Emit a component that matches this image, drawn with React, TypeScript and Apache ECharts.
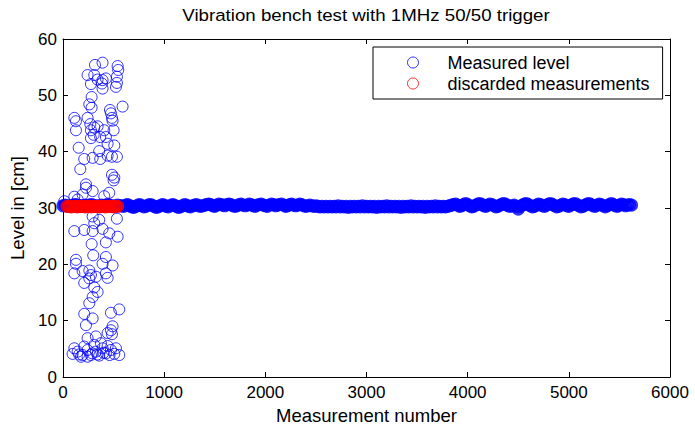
import React, { useEffect, useRef } from "react";
import * as echarts from "echarts";

const FONT = '"Liberation Sans", Arial, Helvetica, sans-serif';

const titleText = "Vibration bench test with 1MHz 50/50 trigger";
const xAxisName = "Measurement number";
const yAxisName = "Level in [cm]";
const seriesNames = ["Measured level", "discarded measurements"];

const xTicks = { min: 0, max: 6000, interval: 1000 };
const yTicks = { min: 0, max: 60, interval: 10 };

// steady level: one value every `levelStep` measurements, starting at `levelStart`
const levelStart = 0;
const levelStep = 20;
const measuredLevels = [
  30.4, 30.5, 30.4, 30.3, 30.4, 30.5, 30.6, 30.5, 30.4, 30.3,
  30.4, 30.5, 30.4, 30.5, 30.6, 30.5, 30.4, 30.3, 30.4, 30.5,
  30.4, 30.5, 30.6, 30.5, 30.4, 30.3, 30.4, 30.5, 30.4, 30.4,
  30.3, 30.5, 30.6, 30.4, 30.2, 30.1, 30.3, 30.5, 30.6, 30.4,
  30.2, 30.3, 30.5, 30.6, 30.5, 30.3, 30.1, 30.2, 30.4, 30.6,
  30.5, 30.3, 30.2, 30.4, 30.6, 30.5, 30.3, 30.1, 30.2, 30.4,
  30.6, 30.5, 30.3, 30.2, 30.4, 30.5, 30.6, 30.4, 30.3, 30.4,
  30.5, 30.6, 30.7, 30.6, 30.4, 30.3, 30.5, 30.7, 30.6, 30.5,
  30.4, 30.6, 30.7, 30.6, 30.4, 30.3, 30.4, 30.6, 30.7, 30.5,
  30.4, 30.5, 30.7, 30.6, 30.4, 30.3, 30.5, 30.6, 30.7, 30.5,
  30.4, 30.3, 30.5, 30.7, 30.6, 30.4, 30.5, 30.6, 30.7, 30.5,
  30.3, 30.4, 30.6, 30.7, 30.5, 30.4, 30.5, 30.7, 30.6, 30.4,
  30.3, 30.4, 30.5, 30.4, 30.3, 30.4, 30.3, 30.2, 30.3, 30.2,
  30.3, 30.2, 30.3, 30.2, 30.3, 30.2, 30.4, 30.2, 30.3, 30.2,
  30.3, 30.1, 30.3, 30.2, 30.3, 30.2, 30.3, 30.2, 30.4, 30.2,
  30.3, 30.2, 30.3, 30.2, 30.3, 30.1, 30.3, 30.2, 30.3, 30.2,
  30.4, 30.2, 30.3, 30.2, 30.3, 30.2, 30.3, 30.1, 30.3, 30.2,
  30.3, 30.2, 30.4, 30.2, 30.3, 30.2, 30.3, 30.2, 30.3, 30.1,
  30.3, 30.2, 30.3, 30.2, 30.4, 30.2, 30.3, 30.2, 30.3, 30.2,
  30.3, 30.4, 30.5,
  30.6, 30.7, 30.5, 30.3, 30.4, 30.6, 30.8, 30.6, 30.4, 30.2,
  30.3, 30.5, 30.7, 30.8, 30.6, 30.4, 30.3, 30.5, 30.7, 30.6,
  30.4, 30.2, 30.3, 30.5, 30.7, 30.8, 30.6, 30.4, 30.3, 30.4,
  30.5, 30.3, 29.8, 30.3, 30.5, 30.7, 30.8, 30.6, 30.4, 30.2,
  30.3, 30.5, 30.7, 30.6, 30.4, 30.3, 30.5, 30.7, 30.8, 30.6,
  30.4, 30.2, 30.3, 30.5, 30.7, 30.6, 30.4, 30.3, 30.5, 30.7,
  30.8, 30.6, 30.4, 30.2, 30.3, 30.5, 30.7, 30.8, 30.6, 30.4,
  30.3, 30.5, 30.7, 30.6, 30.4, 30.2, 30.4, 30.6, 30.8, 30.6,
  30.4, 30.3, 30.5, 30.7, 30.6, 30.4, 30.5, 30.6, 30.5,
];

// scattered readings during the first ~600 measurements [measurement, level]
const measuredBurst: [number, number][] = [
  [391, 55.8], [316, 55.4], [540, 55.2], [546, 54.5], [243, 53.6], [309, 53.6],
  [533, 53.3], [342, 52.8], [391, 52.7], [424, 53.0], [276, 52.0], [385, 52.1],
  [533, 52.2], [523, 51.5], [391, 51.2], [283, 49.7], [589, 48.0], [260, 48.4],
  [283, 47.8], [464, 47.4], [474, 46.8], [484, 46.0], [112, 46.0], [128, 45.4],
  [243, 46.0], [490, 45.5], [128, 43.8], [270, 44.9], [309, 44.3], [342, 44.5],
  [276, 43.8], [303, 43.0], [276, 42.4], [368, 42.6], [408, 43.8], [500, 43.8],
  [424, 42.6], [441, 41.4], [507, 41.1], [155, 40.7], [358, 40.1], [210, 38.7],
  [293, 38.9], [368, 38.7], [441, 39.3], [484, 39.1], [533, 39.1], [171, 36.9],
  [484, 35.9], [507, 35.4], [500, 34.9], [227, 34.2], [227, 33.6], [293, 33.0],
  [457, 32.7], [194, 32.4], [112, 32.0], [408, 32.1], [13, 31.2], [145, 31.5],
  [533, 28.1], [293, 28.5], [358, 27.9], [309, 27.3], [112, 25.9], [210, 26.1],
  [293, 25.9], [391, 26.3], [457, 25.5], [540, 24.9], [424, 23.9], [283, 23.6],
  [299, 21.6], [424, 21.3], [128, 20.8], [128, 20.1], [391, 20.1], [490, 19.8],
  [112, 18.4], [194, 18.8], [260, 18.9], [276, 18.1], [260, 17.5], [325, 17.8],
  [424, 18.4], [441, 17.6], [210, 16.7], [309, 15.9], [342, 15.1], [293, 14.2],
  [260, 13.1], [556, 12.0], [474, 11.4], [210, 11.2], [293, 10.4], [227, 9.2],
  [490, 9.0], [474, 8.3], [441, 7.8], [484, 7.6], [243, 6.9], [325, 7.2],
  [95, 4.1], [145, 4.5], [194, 3.9], [243, 4.8], [276, 3.9], [325, 4.5],
  [358, 3.8], [391, 5.1], [424, 4.2], [474, 4.8], [507, 4.1], [556, 3.9],
  [210, 5.4], [309, 5.7], [441, 5.5], [178, 3.6], [243, 3.6], [375, 6.0],
  [112, 5.1], [523, 5.1], [160, 4.0], [290, 4.2], [340, 4.0], [460, 3.9],
  [400, 4.3],
];

// discarded measurements [measurement, level]
const discarded: [number, number][] = [
  [40, 30.3], [60, 30.3], [80, 30.2], [100, 30.3], [120, 30.3], [140, 30.2],
  [160, 30.3], [180, 30.3], [200, 30.3], [220, 30.2], [240, 30.3], [260, 30.3],
  [280, 30.2], [300, 30.3], [320, 30.3], [340, 30.3], [360, 30.2], [380, 30.3],
  [400, 30.3], [420, 30.2], [440, 30.3], [460, 30.3], [480, 30.3], [500, 30.2],
  [520, 30.3], [540, 30.3],
];

const BLUE = "#0000ff";
const RED = "#ff0000";

export default function App() {
  const ref = useRef<HTMLDivElement>(null);

  useEffect(() => {
    document.body.style.margin = "0";
    if (!ref.current) return;
    const chart = echarts.init(ref.current, null, { renderer: "svg" });

    const levelData = measuredLevels.map((v, i) => [levelStart + i * levelStep, v]);

    const axisCommon = {
      type: "value",
      axisLine: { show: true, onZero: false, lineStyle: { color: "#000", width: 1 } },
      axisTick: { show: true, inside: true, length: 5, lineStyle: { color: "#000", width: 1 } },
      splitLine: { show: false },
    };

    const option: any = {
      animation: false,
      textStyle: { fontFamily: FONT },
      grid: { left: 62, right: 25, top: 39, bottom: 53, containLabel: false },
      xAxis: [
        {
          ...axisCommon,
          position: "bottom",
          min: xTicks.min,
          max: xTicks.max,
          interval: xTicks.interval,
          axisLabel: {
            color: "#000", fontSize: 17, margin: 7, fontFamily: FONT,
            showMinLabel: true, showMaxLabel: true,
            formatter: (v: number) => String(v),
          },
          name: xAxisName,
          nameLocation: "middle",
          nameGap: 26,
          nameTextStyle: { color: "#000", fontSize: 18.5, fontFamily: FONT, verticalAlign: "top" },
        },
        {
          ...axisCommon,
          position: "top",
          min: xTicks.min,
          max: xTicks.max,
          interval: xTicks.interval,
          axisLabel: { show: false },
        },
      ],
      yAxis: [
        {
          ...axisCommon,
          position: "left",
          min: yTicks.min,
          max: yTicks.max,
          interval: yTicks.interval,
          axisLabel: {
            color: "#000", fontSize: 17, margin: 6, fontFamily: FONT,
            showMinLabel: true, showMaxLabel: true,
            formatter: (v: number) => String(v),
          },
          name: yAxisName,
          nameLocation: "middle",
          nameGap: 36,
          nameTextStyle: { color: "#000", fontSize: 18.5, fontFamily: FONT },
        },
        {
          ...axisCommon,
          position: "right",
          min: yTicks.min,
          max: yTicks.max,
          interval: yTicks.interval,
          axisLabel: { show: false },
        },
      ],
      legend: {
        orient: "vertical",
        left: 373,
        top: 47,
        padding: [5, 13, 5, 34],
        itemWidth: 11,
        itemHeight: 11,
        itemGap: 0,
        borderColor: "#000",
        borderWidth: 1,
        borderRadius: 0,
        backgroundColor: "#fff",
        selectedMode: false,
        textStyle: { color: "#000", fontSize: 18, lineHeight: 21, fontFamily: FONT, padding: [0, 0, 0, 24] },
        data: [
          { name: seriesNames[0], icon: "circle", itemStyle: { color: "rgba(0,0,0,0)", borderColor: BLUE, borderWidth: 1 } },
          { name: seriesNames[1], icon: "circle", itemStyle: { color: "rgba(0,0,0,0)", borderColor: RED, borderWidth: 1 } },
        ],
      },
      graphic: [
        {
          type: "text",
          x: 366,
          y: 15,
          scaleX: 1.1,
          silent: true,
          style: {
            text: titleText,
            font: `17px ${FONT}`,
            fill: "#000",
            align: "center",
            verticalAlign: "middle",
            textAlign: "center",
            textVerticalAlign: "middle",
          },
        },
      ],
      series: [
        {
          name: seriesNames[0],
          type: "scatter",
          data: levelData,
          symbol: "circle",
          symbolSize: 9.4,
          itemStyle: { color: "rgba(0,0,0,0)", borderColor: BLUE, borderWidth: 3.6 },
        },
        {
          name: seriesNames[0],
          type: "scatter",
          data: measuredBurst,
          symbol: "circle",
          symbolSize: 11,
          itemStyle: { color: "rgba(0,0,0,0)", borderColor: BLUE, borderWidth: 1 },
        },
        {
          name: seriesNames[1],
          type: "scatter",
          data: discarded,
          symbol: "circle",
          symbolSize: 9.4,
          itemStyle: { color: "rgba(0,0,0,0)", borderColor: RED, borderWidth: 3.6 },
        },
      ],
    };

    chart.setOption(option);
    return () => chart.dispose();
  }, []);

  return <div ref={ref} style={{ width: 695, height: 430 }} />;
}
